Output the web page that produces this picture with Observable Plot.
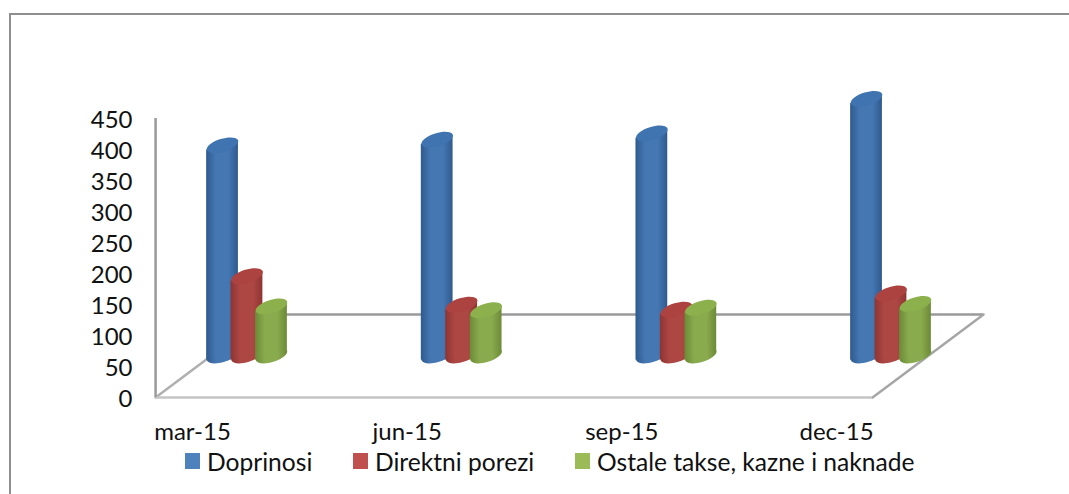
<!DOCTYPE html>
<html><head><meta charset="utf-8">
<script src="https://cdn.jsdelivr.net/npm/d3@7"></script>
<script src="https://cdn.jsdelivr.net/npm/@observablehq/plot@0.6"></script>
<style>
html,body{margin:0;padding:0;background:#fff;width:1069px;height:494px;overflow:hidden}
#frame{position:absolute;left:9px;top:13px;width:1060px;height:481px;border-left:2px solid #8e8e8e;border-top:2px solid #8e8e8e;box-sizing:border-box}
#chart{position:absolute;left:0;top:0}
#legend{position:absolute;left:0;top:445px;width:1069px;height:32px;font:24.6px Lato,sans-serif;color:#111;white-space:nowrap}
#legend span{position:absolute;top:0;height:32px;display:inline-flex;align-items:center}
#legend i{display:inline-block;width:15px;height:16px;margin-right:7px}
</style></head><body>
<div id="frame"></div><div id="chart"></div><div id="legend"></div>
<script>
const categories = ["mar-15","jun-15","sep-15","dec-15"];
const doprinosi = [339,348,358,414];
const direktni = [128,82,74,100];
const ostale = [79,73,77,83];
const seriesNames = ["Doprinosi","Direktni porezi","Ostale takse, kazne i naknade"];
const seriesValues = [doprinosi,direktni,ostale];
const seriesGrad = ["gBlue","gRed","gGreen"];
const seriesTop = ["#3f74b1","#ad4340","#8bb04c"];
const seriesLegend = ["#4f81bd","#c0504d","#9bbb59"];
const seriesOffset = [-0.114,0,0.114];
const yTicks = d3.range(0,451,50);

// floor geometry, in the units of the scales
const ux = 214.67, uy = 0.62;
const depthX = 111/ux, depthY = 83/uy;
const floorL = -0.172, floorR = 3.168;
const barDx = 54.5, barDy = -42, halfW = 0.074, tiltU = 7.7;

const tilted = {draw(c){
  const a=16.4,b=6.6,t=-17*Math.PI/180,k=0.5523;
  const P=(x,y)=>[x*Math.cos(t)-y*Math.sin(t),x*Math.sin(t)+y*Math.cos(t)];
  c.moveTo(...P(a,0));
  c.bezierCurveTo(...P(a,k*b),...P(k*a,b),...P(0,b));
  c.bezierCurveTo(...P(-k*a,b),...P(-a,k*b),...P(-a,0));
  c.bezierCurveTo(...P(-a,-k*b),...P(-k*a,-b),...P(0,-b));
  c.bezierCurveTo(...P(k*a,-b),...P(a,-k*b),...P(a,0));
  c.closePath();
}};

const seriesMarks = seriesValues.flatMap((vals,s)=>{
  const rows = vals.map((v,i)=>({x:i+seriesOffset[s],v}));
  const body = vals.flatMap((v,i)=>{
    const x=i+seriesOffset[s];
    return [{id:i,x:x-halfW,lo:-tiltU,hi:v-tiltU},{id:i,x:x+halfW,lo:tiltU,hi:v+tiltU}];
  });
  const o = {dx:barDx,dy:barDy};
  return [
    Plot.dot(rows,{x:"x",y:()=>0,symbol:tilted,fill:`url(#${seriesGrad[s]})`,r:5,...o}),
    Plot.area(body,{x1:"x",y1:"lo",y2:"hi",z:"id",fill:`url(#${seriesGrad[s]})`,...o}),
    Plot.dot(rows,{x:"x",y:"v",symbol:tilted,fill:seriesTop[s],r:5,...o})
  ];
});

const plot = Plot.plot({
  width:1069,height:445,
  marginLeft:155,marginRight:0,marginTop:0,marginBottom:48,
  style:{background:"transparent",fontFamily:"Lato, sans-serif",color:"#111",overflow:"visible"},
  x:{type:"linear",domain:[0,3],range:[192,836]},
  y:{type:"linear",domain:[0,450],range:[397,118]},
  marks:[
    Plot.ruleY([depthY],{x1:floorL+depthX,x2:floorR+depthX,stroke:"#9a9a9a",strokeWidth:2.5}),
    Plot.line([[floorL,0],[floorL+depthX,depthY]],{stroke:"#b0b0b0",strokeWidth:2.5}),
    Plot.line([[floorR,0],[floorR+depthX,depthY]],{stroke:"#a6a6a6",strokeWidth:2.5}),
    Plot.ruleY([0],{x1:floorL,x2:floorR,stroke:"#c4c4c4",strokeWidth:2.5}),
    Plot.ruleX([floorL],{y1:0,y2:450,stroke:"#9a9a9a",strokeWidth:2.5}),
    ...seriesMarks,
    Plot.axisY({ticks:yTicks,tickSize:0,tickPadding:23,label:null,fontSize:24,anchor:"left",dy:2}),
    Plot.axisX({ticks:[0,1,2,3],tickFormat:i=>categories[i],tickSize:0,tickPadding:25,label:null,fontSize:24,anchor:"bottom"})
  ]
});
const grads = [["gBlue","#2f5a8e","#4577b3"],["gRed","#8f3431","#ad4744"],["gGreen","#6b8a36","#8aaa4e"]];
const ns="http://www.w3.org/2000/svg";
const defs=document.createElementNS(ns,"defs");
for(const [id,e,c] of grads){
  const g=document.createElementNS(ns,"linearGradient");
  g.setAttribute("id",id);
  [[0,e],[0.3,c],[0.7,c],[1,e]].forEach(([o,col])=>{
    const st=document.createElementNS(ns,"stop");st.setAttribute("offset",o);st.setAttribute("stop-color",col);g.appendChild(st);
  });
  defs.appendChild(g);
}
plot.insertBefore(defs,plot.firstChild);
document.getElementById("chart").appendChild(plot);
const legendLeft=[185,353,575];
seriesNames.forEach((n,s)=>{
  const sp=document.createElement("span");
  sp.style.left=legendLeft[s]+"px";
  sp.innerHTML=`<i style="background:${seriesLegend[s]}"></i>${n}`;
  document.getElementById("legend").appendChild(sp);
});
</script></body></html>
